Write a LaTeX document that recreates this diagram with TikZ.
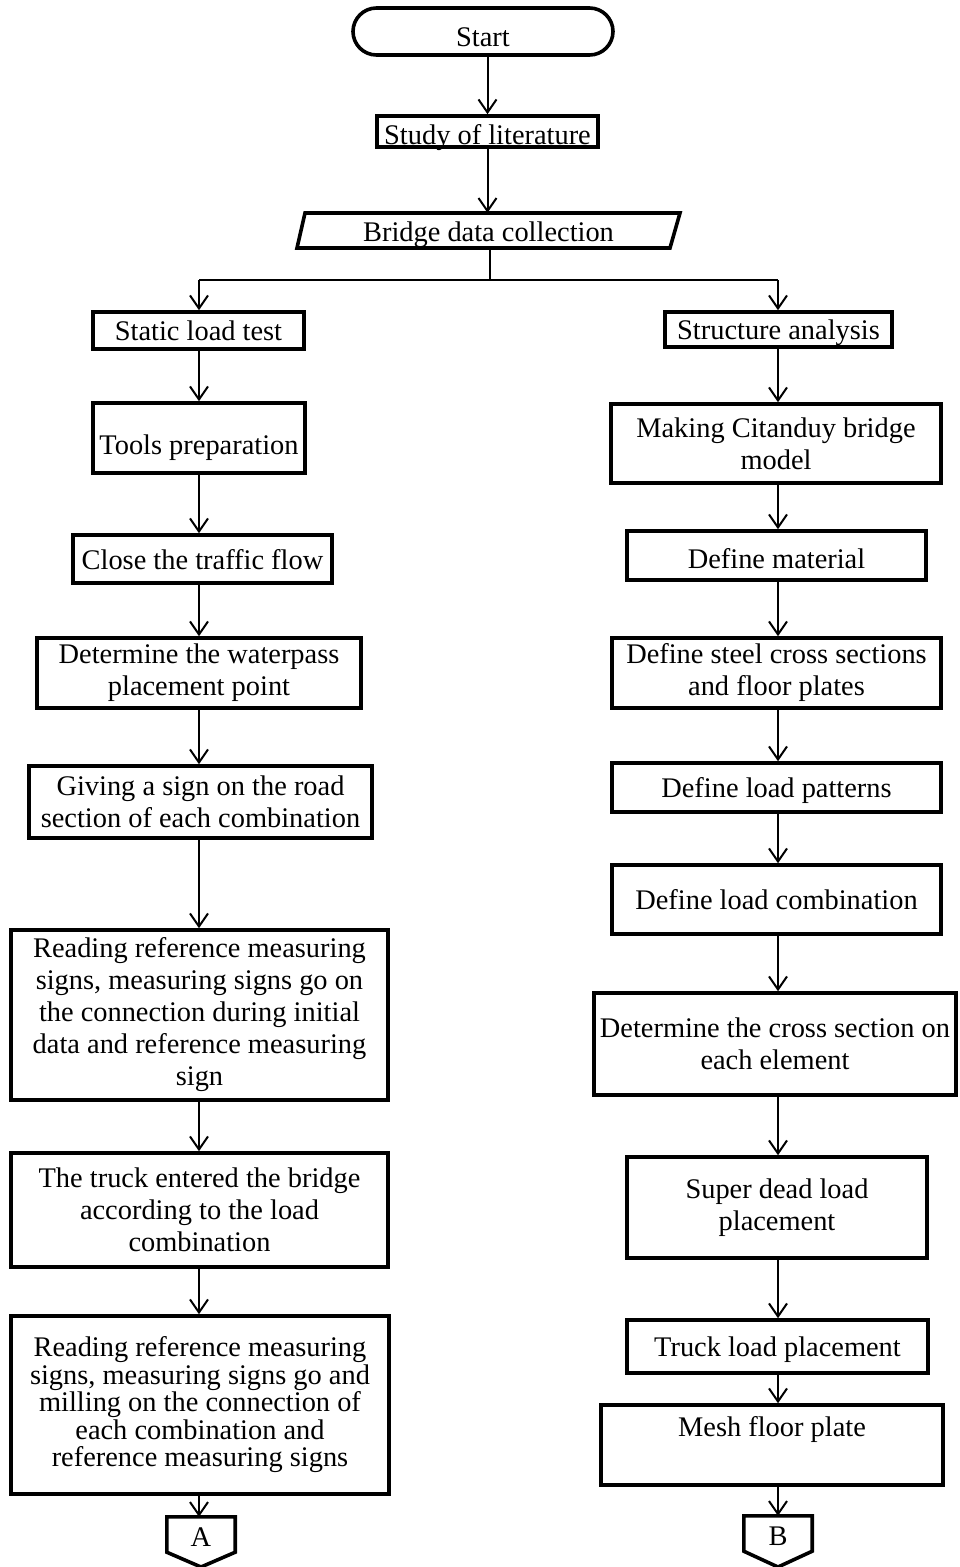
\documentclass[tikz,border=0pt]{standalone}
\usepackage{fontspec}
\setmainfont{Liberation Serif}
\usetikzlibrary{arrows.meta}
\begin{document}
\begin{tikzpicture}[x=1pt,y=-1pt,
  txt/.style={inner sep=0pt, align=center, font=\fontsize{28.4}{32}\selectfont},
  box/.style={txt, draw, line width=3.6pt},
  one/.style={box, text height=21pt, text depth=1pt},
  sz/.style 2 args={minimum width=#1pt, minimum height=#2pt},
  arr/.style={line width=2pt, -{Straight Barb[length=13pt,width=18pt,line width=2pt]}},
  ln/.style={line width=2pt},
  shp/.style={line width=3.6pt, line join=miter},
]
\useasboundingbox (0,0) rectangle (959,1567);
\coordinate (colL) at (199,0);
\coordinate (colR) at (778,0);

% top
\node[box, rounded corners=23.5pt, sz={260}{47}, text height=30pt, text depth=1pt] (start) at (483,31.5) {Start};
\node[box, sz={221}{31}, text height=27pt, text depth=2pt] (lit) at (487.5,131.5) {Study of literature};
\node[txt, sz={375}{35}, text height=22pt, text depth=1pt] (bdc) at (488.5,230.5) {Bridge data collection};
\draw[shp] (305,213) -- (680,213) -- (670,248) -- (297,248) -- cycle;

% left column
\node[one, sz={211}{37}] (L1) at (198.5,330.5) {Static load test};
\node[box, sz={212}{70}, text height=40pt, text depth=7pt] (L2) at (199,438) {Tools preparation};
\node[one, sz={259}{48}] (L3) at (202.5,559) {Close the traffic flow};
\node[box, sz={324}{70}] (L4) at (199,673) {Determine the waterpass\\placement point};
\node[box, sz={343}{72}] (L5) at (200.5,802) {Giving a sign on the road\\section of each combination};
\node[box, sz={377}{170}] (L6) at (199.5,1015) {Reading reference measuring\\signs, measuring signs go on\\the connection during initial\\data and reference measuring\\sign};
\node[box, sz={377}{114}] (L7) at (199.5,1210) {The truck entered the bridge\\according to the load\\combination};
\node[box, sz={378}{178}, font=\fontsize{28.4}{27.5}\selectfont] (L8) at (200,1405) {Reading reference measuring\\signs, measuring signs go and\\milling on the connection of\\each combination and\\reference measuring signs};
\node[txt, sz={68}{35}, text height=24pt, text depth=1pt] (A) at (201,1534.5) {A};
\draw[shp] (A.north west) -- (A.north east) -- (A.south east) -- (201,1567) -- (A.south west) -- cycle;

% right column
\node[one, sz={227}{35}] (R1) at (778.5,329.5) {Structure analysis};
\node[box, sz={330}{79}] (R2) at (776,443.5) {Making Citanduy bridge\\model};
\node[box, sz={299}{49}, text height=26pt, text depth=1pt] (R3) at (776.5,555.5) {Define material};
\node[box, sz={329}{70}] (R4) at (776.5,673) {Define steel cross sections\\and floor plates};
\node[one, sz={329}{49}] (R5) at (776.5,787.5) {Define load patterns};
\node[one, sz={329}{69}] (R6) at (776.5,899.5) {Define load combination};
\node[box, sz={362}{102}] (R7) at (775,1044) {Determine the cross section on\\each element};
\node[box, sz={300}{101}] (R8) at (777,1207.5) {Super dead load\\placement};
\node[one, sz={301}{53}] (R9) at (777.5,1346.5) {Truck load placement};
\node[box, sz={342}{80}, text height=20pt, text depth=37pt] (R10) at (772,1445) {Mesh floor plate};
\node[txt, sz={68}{35}, text height=24pt, text depth=1pt] (B) at (778,1533.5) {B};
\draw[shp] (B.north west) -- (B.north east) -- (B.south east) -- (778,1567) -- (B.south west) -- cycle;

% connectors (top)
\draw[arr] (lit.north |- start.south) -- (lit.north);
\draw[arr] (lit.south) -- (lit.south |- bdc.north);
\coordinate (split) at (490,280);
\coordinate (sl) at (199,280);
\coordinate (sr) at (778,280);
\draw[ln] (bdc.south -| split) -- (split);
\draw[ln] (sl) -- (sr);
\draw[arr] (sl) -- (sl |- L1.north);
\draw[arr] (sr) -- (sr |- R1.north);

% left connectors
\foreach \a/\b in {L1/L2,L2/L3,L3/L4,L4/L5,L5/L6,L6/L7,L7/L8,L8/A}
  \draw[arr] (\a.south -| colL) -- (\b.north -| colL);
% right connectors
\foreach \a/\b in {R1/R2,R2/R3,R3/R4,R4/R5,R5/R6,R6/R7,R7/R8,R8/R9,R9/R10,R10/B}
  \draw[arr] (\a.south -| colR) -- (\b.north -| colR);
\end{tikzpicture}
\end{document}
